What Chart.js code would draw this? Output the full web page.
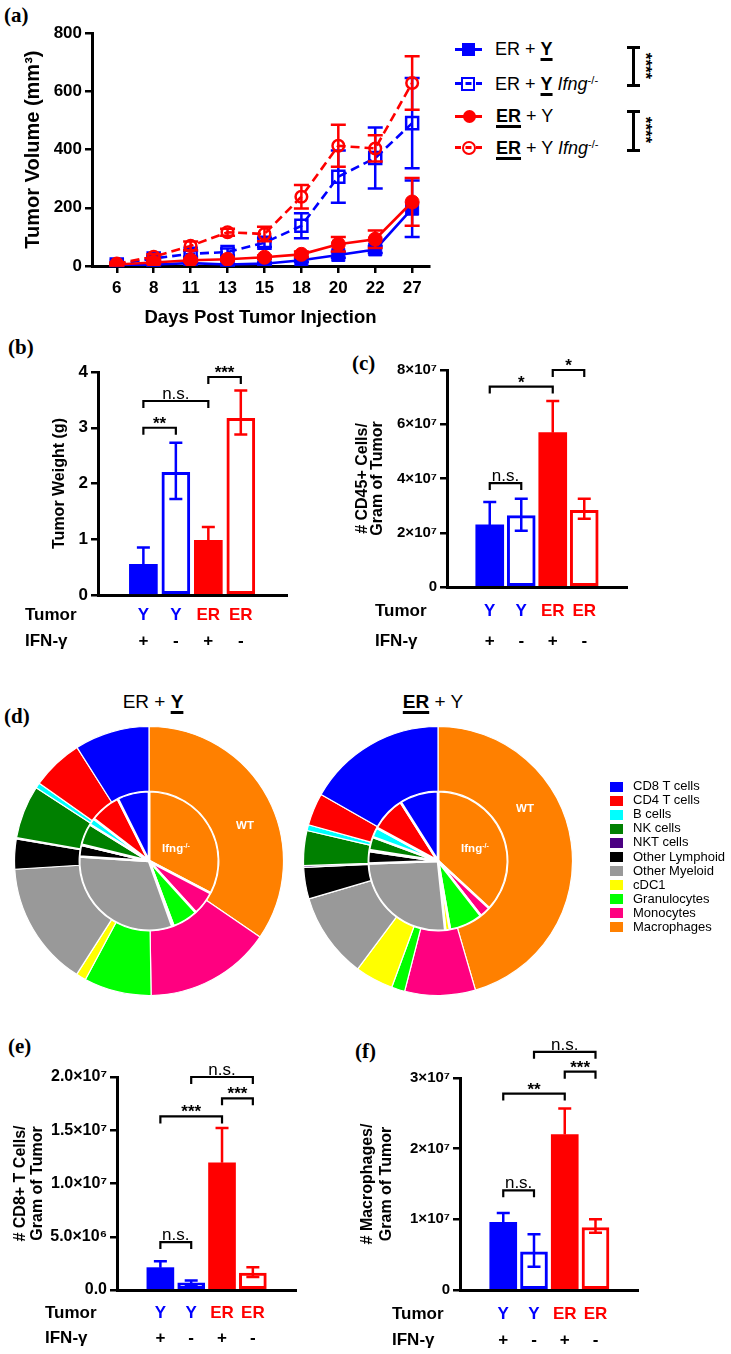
<!DOCTYPE html>
<html lang="en">
<head>
<meta charset="utf-8">
<title>Tumor growth and immune infiltrate</title>
<script src="https://cdn.jsdelivr.net/npm/chart.js@4.4.4/dist/chart.umd.min.js"></script>
<style>
  html, body { margin: 0; padding: 0; background: #fff; }
  #fig { position: relative; width: 731px; height: 1354px; overflow: hidden;
         font-family: 'Liberation Sans', Arial, sans-serif; color: #000; }
  #fig canvas { position: absolute; }
  .abs { position: absolute; white-space: nowrap; }
  .plab { font-family: 'Liberation Serif', 'DejaVu Serif', serif; font-weight: bold; font-size: 21px; line-height: 24px; }
  .leg { font-size: 18px; line-height: 20px; }
  .leg u, .ptitle u { font-weight: bold; text-decoration-thickness: 2.5px; text-underline-offset: 3px; }
  sup { font-size: 0.62em; line-height: 0; vertical-align: 0.55em; }
  .stars { font-weight: bold; font-size: 17px; line-height: 14px; transform: translate(-50%, -50%) rotate(90deg); }
  .ptitle { font-size: 19px; line-height: 22px; width: 200px; text-align: center; }
  .pielab { color: #fff; font-weight: bold; font-size: 11.5px; line-height: 14px; transform: translate(-50%, -50%); }
  .legD { font-size: 13px; line-height: 14px; }
  .sw { position: absolute; width: 13px; height: 10px; }
</style>
</head>
<body>
<div id="fig">
  <!-- panel letters -->
  <div class="abs plab" style="left:4px;top:3px">(a)</div>
  <div class="abs plab" style="left:8px;top:335px">(b)</div>
  <div class="abs plab" style="left:352px;top:351px">(c)</div>
  <div class="abs plab" style="left:4px;top:704px">(d)</div>
  <div class="abs plab" style="left:8px;top:1034px">(e)</div>
  <div class="abs plab" style="left:355px;top:1039px">(f)</div>

  <canvas id="chartA"></canvas>
  <canvas id="chartB"></canvas>
  <canvas id="chartC"></canvas>
  <canvas id="pieLeft"></canvas>
  <canvas id="pieRight"></canvas>
  <canvas id="chartE"></canvas>
  <canvas id="chartF"></canvas>

  <!-- legend of (a) -->
  <div class="abs" style="left:455px;top:48px;width:27px;height:3px;background:#00f"></div>
  <div class="abs" style="left:462px;top:43px;width:13px;height:13px;background:#00f"></div>
  <div class="abs leg" style="left:495px;top:39px">ER + <u>Y</u></div>

  <div class="abs" style="left:455px;top:82px;width:27px;border-top:3px dashed #00f"></div>
  <div class="abs" style="left:461px;top:77px;width:14px;height:14px;box-sizing:border-box;border:2.5px solid #00f"></div>
  <div class="abs leg" style="left:495px;top:74px">ER + <u>Y</u> <i>Ifng</i><sup>-/-</sup></div>

  <div class="abs" style="left:455px;top:115px;width:27px;height:3px;background:#f00"></div>
  <div class="abs" style="left:463px;top:110px;width:13px;height:13px;border-radius:50%;background:#f00"></div>
  <div class="abs leg" style="left:496px;top:106px"><u>ER</u> + Y</div>

  <div class="abs" style="left:455px;top:146px;width:27px;border-top:3px dashed #f00"></div>
  <div class="abs" style="left:462px;top:141px;width:14px;height:14px;box-sizing:border-box;border:2.5px solid #f00;border-radius:50%"></div>
  <div class="abs leg" style="left:496px;top:138px"><u>ER</u> + Y <i>Ifng</i><sup>-/-</sup></div>

  <!-- significance brackets next to the legend -->
  <div class="abs" style="left:632px;top:47px;width:2.5px;height:38px;background:#000"></div>
  <div class="abs" style="left:627px;top:46px;width:13px;height:2.5px;background:#000"></div>
  <div class="abs" style="left:627px;top:84px;width:13px;height:2.5px;background:#000"></div>
  <div class="abs stars" style="left:645px;top:66px">****</div>
  <div class="abs" style="left:632px;top:111px;width:2.5px;height:39px;background:#000"></div>
  <div class="abs" style="left:627px;top:110px;width:13px;height:2.5px;background:#000"></div>
  <div class="abs" style="left:627px;top:149px;width:13px;height:2.5px;background:#000"></div>
  <div class="abs stars" style="left:645px;top:130px">****</div>

  <!-- pie titles and ring labels -->
  <div class="abs ptitle" style="left:53px;top:691px">ER + <u>Y</u></div>
  <div class="abs ptitle" style="left:333px;top:691px"><u>ER</u> + Y</div>
  <div class="abs pielab" style="left:245px;top:825px">WT</div>
  <div class="abs pielab" style="left:176px;top:848px">Ifng<sup>-/-</sup></div>
  <div class="abs pielab" style="left:525px;top:808px">WT</div>
  <div class="abs pielab" style="left:475px;top:848px">Ifng<sup>-/-</sup></div>
  <div id="legendD"></div>
</div>

<script>
/* ── (a) tumour volume over time ── */
const days        = ['6', '8', '11', '13', '15', '18', '20', '22', '27'];
const volYWT      = [2, 5, 10, 5, 8, 20, 38, 57, 197];
const volYWTErr   = [2, 3, 4, 3, 4, 6, 10, 12, 97];
const volYKO      = [5, 26, 42, 48, 80, 138, 307, 371, 491];
const volYKOErr   = [4, 8, 10, 12, 15, 43, 90, 105, 155];
const volERWT     = [5, 12, 20, 23, 30, 40, 75, 92, 220];
const volERWTErr  = [3, 4, 5, 5, 6, 10, 25, 30, 82];
const volERKO     = [8, 32, 69, 116, 110, 238, 413, 404, 629];
const volERKOErr  = [5, 8, 15, 12, 25, 40, 72, 45, 92];

/* ── groups shared by the bar panels ── */
const groupTumor = ['Y', 'Y', 'ER', 'ER'];
const groupIfn   = ['+', '-', '+', '-'];

/* ── (b) tumour weight ── */
const weightMean   = [0.55, 2.2, 0.98, 3.17];
const weightErrUp  = [0.3, 0.53, 0.24, 0.5];
const weightErrLow = [null, 0.48, null, 0.29];
const weightSig    = [[0, 1, 3.0, '**'], [0, 2, 3.48, 'n.s.'], [2, 3, 3.91, '***']];

/* ── (c) CD45+ cells per gram ── */
const cd45Mean   = [2.29e7, 2.63e7, 5.69e7, 2.83e7];
const cd45ErrUp  = [0.84e7, 0.62e7, 1.17e7, 0.42e7];
const cd45ErrLow = [null, 0.56e7, null, 0.31e7];
const cd45Sig    = [[0, 1, 3.83e7, 'n.s.'], [0, 2, 7.39e7, '*'], [2, 3, 8.0e7, '*']];

/* ── (d) immune composition, WT (outer ring) vs Ifng-/- (inner pie), % ── */
const cellTypes  = ['CD8 T cells', 'CD4 T cells', 'B cells', 'NK cells', 'NKT cells', 'Other Lymphoid',
                    'Other Myeloid', 'cDC1', 'Granulocytes', 'Monocytes', 'Macrophages'];
const cellColors = ['#0000ff', '#ff0000', '#00ffff', '#008000', '#4b0082', '#000000',
                    '#999999', '#ffff00', '#00ff00', '#ff0080', '#ff8000'];
const leftWT  = [9.0, 6.2, 0.65, 6.4, 0.15, 3.6, 15.0, 1.2, 8.1, 15.2, 34.6];
const leftKO  = [7.4, 7.2, 1.6, 5.0, 0.1, 2.7, 31.5, 0.3, 6.0, 5.6, 32.7];
const rightWT = [16.8, 3.9, 0.7, 4.2, 0.2, 3.8, 10.3, 4.6, 1.6, 8.5, 45.6];
const rightKO = [9.0, 8.1, 2.3, 3.1, 0.2, 2.9, 26.1, 1.1, 7.8, 2.6, 36.9];

/* ── (e) CD8+ T cells per gram ── */
const cd8Mean   = [2.1e6, 0.68e6, 1.195e7, 1.6e6];
const cd8ErrUp  = [0.6e6, 0.22e6, 0.325e7, 0.53e6];
const cd8ErrLow = [null, 0.23e6, null, 0.37e6];
const cd8Sig    = [[0, 1, 4.5e6, 'n.s.'], [0, 2, 1.63e7, '***'], [2, 3, 1.8e7, '***'], [1, 3, 2.0e7, 'n.s.']];

/* ── (f) macrophages per gram ── */
const macMean   = [9.56e6, 5.4e6, 2.2e7, 8.85e6];
const macErrUp  = [1.34e6, 2.5e6, 3.7e6, 1.15e6];
const macErrLow = [null, 2.1e6, null, 0.75e6];
const macSig    = [[0, 1, 1.41e7, 'n.s.'], [0, 2, 2.78e7, '**'], [2, 3, 3.09e7, '***'], [1, 3, 3.37e7, 'n.s.']];

const BLUE = '#0000ff';
const RED  = '#ff0000';
const FONT = "'Liberation Sans', Arial, sans-serif";
const tumorColor = groupTumor.map(t => t === 'Y' ? BLUE : RED);

Chart.defaults.font.family = FONT;
Chart.defaults.color = '#000';

/* error bars, drawn right after their own dataset so layering follows dataset order */
const errorBars = {
  id: 'errorBars',
  afterDatasetDraw(chart, args, opts) {
    const ds = chart.data.datasets[args.index];
    if (!ds.errUp) return;
    const { ctx } = chart;
    const xs = chart.scales.x, ys = chart.scales.y;
    ctx.save();
    ctx.lineWidth = opts.width;
    ctx.lineCap = 'butt';
    ds.data.forEach((pt, i) => {
      const px = xs.getPixelForValue(pt.x);
      const top = ys.getPixelForValue(pt.y + ds.errUp[i]);
      const hasLow = ds.errLow[i] != null;
      const low = ys.getPixelForValue(hasLow ? pt.y - ds.errLow[i] : pt.y);
      ctx.strokeStyle = Array.isArray(ds.borderColor) ? ds.borderColor[i] : ds.borderColor;
      ctx.beginPath();
      ctx.moveTo(px, top); ctx.lineTo(px, low);
      ctx.moveTo(px - opts.cap, top); ctx.lineTo(px + opts.cap, top);
      if (hasLow) { ctx.moveTo(px - opts.cap, low); ctx.lineTo(px + opts.cap, low); }
      ctx.stroke();
    });
    ctx.restore();
  }
};

/* comparison brackets above the bars */
const sigBrackets = {
  id: 'sigBrackets',
  afterDraw(chart, args, opts) {
    if (!opts.items) return;
    const { ctx } = chart;
    const xs = chart.scales.x, ys = chart.scales.y;
    ctx.save();
    ctx.strokeStyle = '#000';
    ctx.fillStyle = '#000';
    ctx.lineWidth = 2.2;
    ctx.textAlign = 'center';
    ctx.textBaseline = 'alphabetic';
    opts.items.forEach(([a, b, v, label]) => {
      const x1 = xs.getPixelForValue(a), x2 = xs.getPixelForValue(b), y = ys.getPixelForValue(v);
      ctx.beginPath();
      ctx.moveTo(x1, y + 7); ctx.lineTo(x1, y); ctx.lineTo(x2, y); ctx.lineTo(x2, y + 7);
      ctx.stroke();
      ctx.font = label === 'n.s.' ? '17px ' + FONT : 'bold 17px ' + FONT;
      ctx.fillText(label, (x1 + x2) / 2, label === 'n.s.' ? y - 2 : y + 1);
    });
    ctx.restore();
  }
};

/* "Tumor" / "IFN-γ" table under the bars */
const groupRows = {
  id: 'groupRows',
  afterDraw(chart, args, opts) {
    if (opts.headX == null) return;
    const { ctx, chartArea } = chart;
    const xs = chart.scales.x;
    ctx.save();
    ctx.font = 'bold 17px ' + FONT;
    ctx.fillStyle = '#000';
    ctx.textBaseline = 'middle';
    ctx.textAlign = 'left';
    ctx.fillText('Tumor', opts.headX, chartArea.bottom + opts.tumorDy);
    ctx.fillText('IFN-γ', opts.headX, chartArea.bottom + opts.ifnDy);
    ctx.textAlign = 'center';
    groupIfn.forEach((s, i) => ctx.fillText(s, xs.getPixelForValue(i), chartArea.bottom + opts.ifnDy));
    ctx.restore();
  }
};

function placeCanvas(id, box) {
  const cv = document.getElementById(id);
  cv.width = box.w;
  cv.height = box.h;
  cv.style.left = box.x + 'px';
  cv.style.top = box.y + 'px';
  return cv;
}

const axisBorder = { color: '#000', width: 3 };

/* ────────────────────────────────────────────
   (a) growth curves
─────────────────────────────────────────────── */
const growthSeries = [
  { vals: volYWT,  err: volYWTErr,  color: BLUE, dashed: false, style: 'rect',   r: 9.2, open: false, order: 4 },
  { vals: volYKO,  err: volYKOErr,  color: BLUE, dashed: true,  style: 'rect',   r: 8.5, open: true,  order: 3 },
  { vals: volERWT, err: volERWTErr, color: RED,  dashed: false, style: 'circle', r: 7,   open: false, order: 2 },
  { vals: volERKO, err: volERKOErr, color: RED,  dashed: true,  style: 'circle', r: 5.8, open: true,  order: 1 }
];

(function () {
  const box = { x: 0, y: 20, w: 440, h: 310 };
  const area = { left: 92, top: 33, right: 432, bottom: 266 };
  const first = 117, step = 37.25;
  new Chart(placeCanvas('chartA', box), {
    type: 'line',
    data: {
      datasets: growthSeries.map(s => ({
        data: s.vals.map((v, i) => ({ x: i, y: v })),
        errUp: s.err,
        errLow: s.err,
        borderColor: s.color,
        borderWidth: 2.6,
        borderDash: s.dashed ? [9, 5] : [],
        pointStyle: s.style,
        pointRadius: s.r,
        pointBackgroundColor: s.open ? 'rgba(0,0,0,0)' : s.color,
        pointBorderColor: s.color,
        pointBorderWidth: s.open ? 2.5 : 1,
        tension: 0,
        order: s.order
      }))
    },
    options: {
      responsive: false, animation: false, events: [],
      layout: { padding: { left: 0, top: area.top - box.y, right: box.x + box.w - area.right, bottom: 0 } },
      plugins: { legend: { display: false }, tooltip: { enabled: false }, errorBars: { cap: 7.5, width: 2.5 } },
      scales: {
        x: {
          type: 'linear',
          min: (area.left - first) / step,
          max: (area.right - first) / step,
          afterFit: s => { s.height = box.y + box.h - area.bottom; },
          afterBuildTicks: s => { s.ticks = days.map((d, i) => ({ value: i })); },
          grid: { drawOnChartArea: false, color: '#000', lineWidth: 2.5, tickLength: 7 },
          border: axisBorder,
          ticks: { callback: v => days[v], font: { size: 17, weight: 'bold' }, padding: 5, maxRotation: 0, autoSkip: false },
          title: { display: true, text: 'Days Post Tumor Injection', font: { size: 18.5, weight: 'bold' }, padding: { top: 0, bottom: 1 } }
        },
        y: {
          min: 0, max: 800,
          afterFit: s => { s.width = area.left - box.x; },
          grid: { drawOnChartArea: false, color: '#000', lineWidth: 2.5, tickLength: 7 },
          border: axisBorder,
          ticks: { stepSize: 200, font: { size: 17, weight: 'bold' }, padding: 3 },
          title: { display: true, text: 'Tumor Volume (mm³)', font: { size: 20, weight: 'bold' }, padding: { top: 21, bottom: 0 } }
        }
      }
    },
    plugins: [errorBars]
  });
})();

/* ────────────────────────────────────────────
   bar panels (b), (c), (e), (f)
─────────────────────────────────────────────── */
function makeBarPanel(id, p) {
  const { box, area } = p;
  new Chart(placeCanvas(id, box), {
    type: 'bar',
    data: {
      datasets: [{
        data: p.mean.map((v, i) => ({ x: i, y: v })),
        errUp: p.errUp,
        errLow: p.errLow,
        backgroundColor: groupIfn.map((s, i) => s === '+' ? tumorColor[i] : '#ffffff'),
        borderColor: tumorColor,
        borderWidth: groupIfn.map(s => s === '+' ? 0 : 3),
        borderSkipped: false,
        barThickness: p.barW
      }]
    },
    options: {
      responsive: false, animation: false, events: [],
      layout: { padding: { left: 0, top: area.top - box.y, right: box.x + box.w - area.right, bottom: 0 } },
      plugins: {
        legend: { display: false }, tooltip: { enabled: false },
        errorBars: { cap: 6.5, width: 2.5 },
        sigBrackets: { items: p.sig },
        groupRows: { headX: p.headX, tumorDy: p.tumorDy, ifnDy: p.ifnDy }
      },
      scales: {
        x: {
          type: 'linear',
          min: (area.left - p.first) / p.step,
          max: (area.right - p.first) / p.step,
          afterFit: s => { s.height = box.y + box.h - area.bottom; },
          afterBuildTicks: s => { s.ticks = groupTumor.map((t, i) => ({ value: i })); },
          grid: { drawOnChartArea: false, drawTicks: false },
          border: axisBorder,
          ticks: {
            callback: v => groupTumor[v],
            color: ctx => tumorColor[ctx.index],
            font: { size: 17, weight: 'bold' },
            padding: p.tumorDy - 10.2,
            maxRotation: 0, autoSkip: false
          }
        },
        y: {
          min: 0, max: p.max,
          afterFit: s => { s.width = area.left - box.x; },
          grid: { drawOnChartArea: false, color: '#000', lineWidth: 2.5, tickLength: 7 },
          border: axisBorder,
          ticks: { stepSize: p.stepSize, callback: p.fmt, font: { size: p.tickSize, weight: 'bold' }, padding: 3 },
          title: {
            display: true, text: p.title,
            font: { size: 16, weight: 'bold', lineHeight: p.titleLh },
            padding: { top: p.titlePad, bottom: 0 }
          }
        }
      }
    },
    plugins: [errorBars, sigBrackets, groupRows]
  });
}

const sci7 = v => v === 0 ? '0' : (v / 1e7) + '×10⁷';

makeBarPanel('chartB', {
  box: { x: 0, y: 330, w: 300, h: 330 }, area: { left: 98, top: 372, right: 287, bottom: 595 },
  first: 127, step: 43.3, barW: 28,
  mean: weightMean, errUp: weightErrUp, errLow: weightErrLow, sig: weightSig,
  max: 4, stepSize: 1, fmt: v => v, tickSize: 17,
  title: 'Tumor Weight (g)', titleLh: '19px', titlePad: 50.5,
  headX: 25, tumorDy: 20, ifnDy: 46
});

makeBarPanel('chartC', {
  box: { x: 345, y: 330, w: 290, h: 330 }, area: { left: 447, top: 370, right: 627, bottom: 587 },
  first: 474, step: 42, barW: 28,
  mean: cd45Mean, errUp: cd45ErrUp, errLow: cd45ErrLow, sig: cd45Sig,
  max: 8e7, stepSize: 2e7, fmt: sci7, tickSize: 15,
  title: ['# CD45+ Cells/', 'Gram of Tumor'], titleLh: '15px', titlePad: 10.5,
  headX: 30, tumorDy: 24, ifnDy: 54
});

makeBarPanel('chartE', {
  box: { x: 0, y: 1030, w: 310, h: 324 }, area: { left: 117, top: 1077, right: 296, bottom: 1290 },
  first: 145, step: 41.1, barW: 27,
  mean: cd8Mean, errUp: cd8ErrUp, errLow: cd8ErrLow, sig: cd8Sig,
  max: 2e7, stepSize: 5e6, tickSize: 16,
  fmt: v => v === 0 ? '0.0' : v < 1e7 ? (v / 1e6).toFixed(1) + '×10⁶' : (v / 1e7).toFixed(1) + '×10⁷',
  title: ['# CD8+ T Cells/', 'Gram of Tumor'], titleLh: '16.5px', titlePad: 12.7,
  headX: 45, tumorDy: 23, ifnDy: 48
});

makeBarPanel('chartF', {
  box: { x: 355, y: 1025, w: 290, h: 329 }, area: { left: 460, top: 1078, right: 638, bottom: 1290 },
  first: 488, step: 41, barW: 27,
  mean: macMean, errUp: macErrUp, errLow: macErrLow, sig: macSig,
  max: 3e7, stepSize: 1e7, fmt: sci7, tickSize: 15,
  title: ['# Macrophages/', 'Gram of Tumor'], titleLh: '19px', titlePad: 3.5,
  headX: 37, tumorDy: 24, ifnDy: 50
});

/* ────────────────────────────────────────────
   (d) nested pies: clockwise from 12 o'clock,
   macrophages first, CD8 last
─────────────────────────────────────────────── */
function makePie(id, box, wt, ko) {
  const order = cellTypes.map((c, i) => cellTypes.length - 1 - i);
  new Chart(placeCanvas(id, box), {
    type: 'doughnut',
    data: {
      labels: order.map(i => cellTypes[i]),
      datasets: [
        { data: order.map(i => wt[i]), backgroundColor: order.map(i => cellColors[i]),
          borderColor: '#ffffff', borderWidth: 1.2, weight: 1 },
        { data: order.map(i => ko[i]), backgroundColor: order.map(i => cellColors[i]),
          borderColor: '#ffffff', borderWidth: 2.6, weight: 1.08 }
      ]
    },
    options: {
      responsive: false, animation: false, events: [],
      cutout: 0, radius: 134.5,
      layout: { padding: 0 },
      plugins: { legend: { display: false }, tooltip: { enabled: false } }
    }
  });
}

makePie('pieLeft',  { x: 14,  y: 726, w: 270, h: 270 }, leftWT, leftKO);
makePie('pieRight', { x: 303, y: 726, w: 270, h: 270 }, rightWT, rightKO);

/* legend of (d) */
(function () {
  const host = document.getElementById('legendD');
  cellTypes.forEach((name, i) => {
    const cy = 786.7 + i * 14.06;
    const sw = document.createElement('div');
    sw.className = 'sw';
    sw.style.left = '610px';
    sw.style.top = (cy - 5) + 'px';
    sw.style.background = cellColors[i];
    host.appendChild(sw);
    const tx = document.createElement('div');
    tx.className = 'abs legD';
    tx.style.left = '633px';
    tx.style.top = (cy - 7.5) + 'px';
    tx.textContent = name;
    host.appendChild(tx);
  });
})();
</script>
</body>
</html>
